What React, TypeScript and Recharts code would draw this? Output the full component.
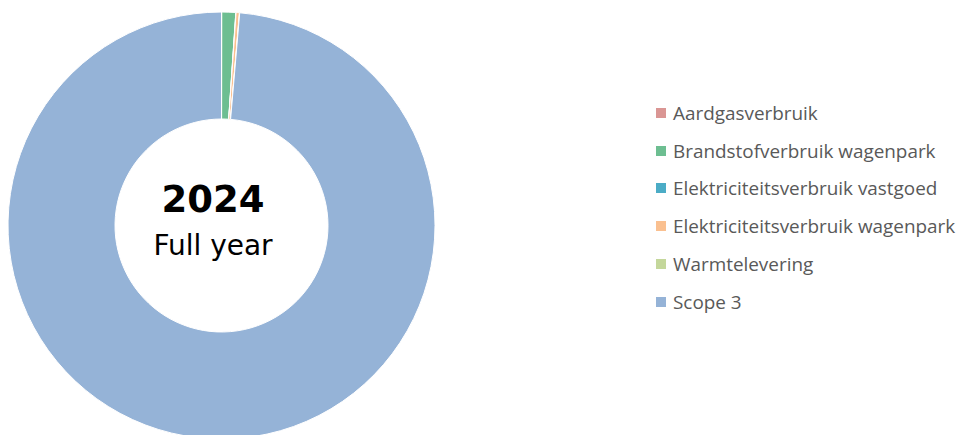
import { PieChart, Pie, Cell } from "recharts";

const categories = [
  "Aardgasverbruik",
  "Brandstofverbruik wagenpark",
  "Elektriciteitsverbruik vastgoed",
  "Elektriciteitsverbruik wagenpark",
  "Warmtelevering",
  "Scope 3",
];
const shares = [0.02, 1.05, 0.02, 0.25, 0.02, 98.64];
const colors = ["#DA9694", "#6DBE91", "#4BACC6", "#FAC090", "#C4D79B", "#95B3D7"];

const title = "2024";
const subtitle = "Full year";

const data = categories.map((name, i) => ({ name, value: shares[i] }));

export default function App() {
  return (
    <div style={{ position: "absolute", left: 0, top: 0, width: 959, height: 435, background: "#fff", overflow: "hidden" }}>
      <PieChart width={959} height={435} margin={{ top: 0, right: 0, bottom: 0, left: 0 }}>
        <Pie
          data={data}
          dataKey="value"
          nameKey="name"
          cx={221.5}
          cy={225.5}
          innerRadius={106.5}
          outerRadius={213.5}
          startAngle={90}
          endAngle={-270}
          stroke="#fff"
          strokeWidth={1}
          isAnimationActive={false}
        >
          {data.map((d, i) => (
            <Cell key={d.name} fill={colors[i]} />
          ))}
        </Pie>
      </PieChart>

      {/* center text */}
      <svg
        width={959}
        height={435}
        style={{ position: "absolute", left: 0, top: 0, pointerEvents: "none" }}
      >
        <text x={213} y={212} textAnchor="middle" fontFamily="DejaVu Sans" fontWeight="bold" fontSize={37} fill="#000">
          {title}
        </text>
        <text x={213} y={255} textAnchor="middle" fontFamily="DejaVu Sans" fontSize={28} fill="#000">
          {subtitle}
        </text>
      </svg>

      {/* legend */}
      <div
        style={{
          position: "absolute",
          left: 656,
          top: 94,
          fontFamily: "'Open Sans', sans-serif",
          fontSize: 18.9,
          color: "#595959",
          whiteSpace: "nowrap",
        }}
      >
        {categories.map((c, i) => (
          <div key={c} style={{ display: "flex", alignItems: "center", height: 37.8 }}>
            <span
              style={{
                flex: "0 0 10px",
                width: 10,
                height: 10,
                background: colors[i],
                marginRight: 7,
              }}
            />
            <span>{c}</span>
          </div>
        ))}
      </div>
    </div>
  );
}
